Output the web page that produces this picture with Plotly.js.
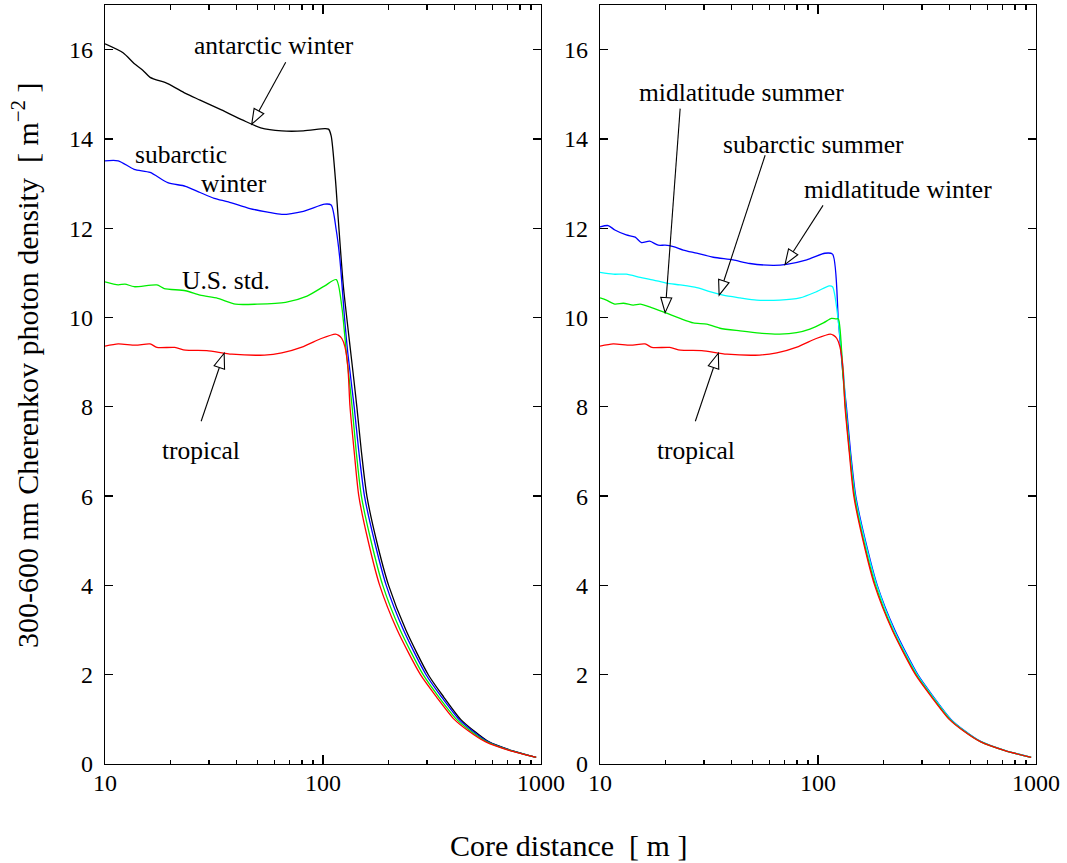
<!DOCTYPE html>
<html>
<head>
<meta charset="utf-8">
<script src="https://cdn.plot.ly/plotly-3.0.1.min.js"></script>
<style>html,body{margin:0;padding:0;background:#fff;}#plot{width:1067px;height:863px;}</style>
</head>
<body>
<div id="plot"></div>
<script>
// ---------------- data ----------------
// Left panel
const antarcticWinterX = [10, 12.1, 13.6, 14.9, 16.1, 19.4, 23.4, 27.3, 34.2, 42.9, 51.8, 64.7, 81.3, 101.9, 106, 109, 114, 117.5, 124, 132, 138.6, 143, 150, 159, 176, 200, 240, 304, 358, 428, 490, 575, 735, 950];
const antarcticWinterY = [16.13, 15.93, 15.69, 15.54, 15.38, 15.24, 15.02, 14.87, 14.65, 14.42, 14.25, 14.18, 14.18, 14.23, 14.22, 14.07, 13.1, 12.2, 10.7, 9.5, 8.6, 8.0, 7.0, 6.0, 5.0, 4.0, 3.0, 2.0, 1.5, 1.0, 0.75, 0.5, 0.3, 0.15];

const subarcticWinterX = [10, 11.5, 13.6, 16.1, 19.4, 23.4, 27.3, 31.7, 36.8, 46.2, 55.8, 64.7, 81.3, 101.9, 109, 115, 119.6, 125.8, 130, 139, 146, 155, 172, 195, 234, 297, 350, 420, 482, 570, 730, 950];
const subarcticWinterY = [13.51, 13.51, 13.32, 13.25, 13.02, 12.94, 12.80, 12.67, 12.59, 12.44, 12.36, 12.31, 12.38, 12.54, 12.52, 11.96, 11.29, 9.94, 9.2, 8.0, 7.0, 6.0, 5.0, 4.0, 3.0, 2.0, 1.5, 1.0, 0.75, 0.5, 0.3, 0.15];

const usStdX = [10, 11.5, 12.35, 13.6, 17.3, 18.7, 23.4, 27.3, 32.9, 39.7, 49.9, 67.3, 84.5, 101.9, 115, 122, 128, 132, 136, 142, 150, 166, 188, 226, 288, 340, 410, 472, 562, 725, 950];
const usStdY = [10.80, 10.73, 10.75, 10.69, 10.73, 10.65, 10.60, 10.50, 10.43, 10.30, 10.30, 10.34, 10.48, 10.71, 10.85, 10.24, 9.2, 8.6, 8.0, 7.0, 6.0, 5.0, 4.0, 3.0, 2.0, 1.5, 1.0, 0.75, 0.5, 0.3, 0.15];

const tropicalX = [10, 11.5, 13.8, 16.1, 17.3, 20.9, 23.4, 29.3, 38.2, 53.9, 64.7, 81.3, 98.2, 114, 118, 122, 126, 130, 133, 139, 146, 161, 182, 219, 280, 332, 400, 462, 555, 720, 950];
const tropicalY = [9.36, 9.41, 9.38, 9.41, 9.33, 9.33, 9.27, 9.26, 9.18, 9.16, 9.21, 9.35, 9.53, 9.63, 9.60, 9.53, 9.35, 8.9, 8.0, 7.0, 6.0, 5.0, 4.0, 3.0, 2.0, 1.5, 1.0, 0.75, 0.5, 0.3, 0.15];

// Right panel
const midWinterX = [10, 10.9, 11.7, 13.2, 14.5, 15.5, 16.9, 18.5, 19.9, 21.7, 24.1, 27.8, 33.1, 40.8, 48.7, 62.3, 71.8, 88.8, 107.5, 116.6, 124, 130, 135, 141, 149, 165, 187, 225, 287, 339, 407, 469, 560, 724, 950];
const midWinterY = [12.03, 12.06, 11.96, 11.85, 11.80, 11.68, 11.71, 11.62, 11.62, 11.59, 11.51, 11.44, 11.35, 11.29, 11.21, 11.17, 11.19, 11.29, 11.44, 11.42, 9.94, 8.75, 8.0, 7.0, 6.0, 5.0, 4.0, 3.0, 2.0, 1.5, 1.0, 0.75, 0.5, 0.3, 0.15];

const subSummerX = [10, 11.5, 13.2, 15.3, 17.6, 20.2, 23.3, 27.8, 31.9, 36.7, 43.9, 52.3, 66.8, 82.6, 98.6, 112.6, 116.6, 131, 134, 140, 148, 164, 186, 223, 285, 337, 405, 467, 558, 723, 950];
const subSummerY = [11.01, 10.97, 10.97, 10.90, 10.84, 10.77, 10.73, 10.67, 10.58, 10.50, 10.44, 10.39, 10.39, 10.44, 10.58, 10.71, 10.69, 8.75, 8.0, 7.0, 6.0, 5.0, 4.0, 3.0, 2.0, 1.5, 1.0, 0.75, 0.5, 0.3, 0.15];

const midSummerX = [10, 10.7, 11.7, 12.8, 14.2, 15.3, 16.9, 19.9, 23.3, 26.8, 30.9, 35.5, 43.9, 54.2, 66.8, 79.7, 91.8, 105.9, 115.3, 120.9, 124, 130, 133.5, 139.5, 147, 162, 183.5, 220, 282, 334, 402, 464, 556, 721, 950];
const midSummerY = [10.44, 10.39, 10.30, 10.32, 10.28, 10.30, 10.24, 10.11, 9.98, 9.88, 9.85, 9.76, 9.70, 9.65, 9.63, 9.66, 9.74, 9.88, 9.98, 9.97, 9.97, 8.75, 8.0, 7.0, 6.0, 5.0, 4.0, 3.0, 2.0, 1.5, 1.0, 0.75, 0.5, 0.3, 0.15];

const yTickVals = [0, 2, 4, 6, 8, 10, 12, 14, 16];
const xTickVals = [10, 100, 1000];
const xTickText = ['10', '100', '1000'];
const xMinorVals = [20, 30, 40, 50, 60, 70, 80, 90, 200, 300, 400, 500, 600, 700, 800, 900];

// labels: [panel, text, centre px x, centre px y]
const labels = [
  [0, 'antarctic winter', 274, 46],
  [0, 'subarctic', 181, 155],
  [0, 'winter', 234, 183],
  [0, 'U.S. std.', 226, 280],
  [0, 'tropical', 201, 450],
  [1, 'midlatitude summer', 741, 93],
  [1, 'subarctic summer', 813, 144],
  [1, 'midlatitude winter', 898, 190],
  [1, 'tropical', 696, 450]
];
// arrows: [panel, tip x (data), tip y (data), tail offset dx px, dy px]
const arrows = [
  [0, 47.1, 14.33, 34, -62],
  [0, 35.2, 9.2, -23, 68],
  [1, 19.9, 10.11, 15, -204],
  [1, 35.2, 10.50, 46, -140],
  [1, 70.6, 11.19, 38, -59],
  [1, 34.9, 9.2, -23, 68]
];

// ---------------- layout geometry ----------------
const W = 1067, H = 863;
const mL = 105, mR = 31, mT = 5, mB = 99;
const pW = W - mL - mR, pH = H - mT - mB;
const dom1 = [0, 436 / pW], dom2 = [495 / pW, 1];
const yMax = 17;

function dataToPx(panel, x, y) {
  const d = panel ? dom2 : dom1;
  const px = mL + pW * (d[0] + (d[1] - d[0]) * (Math.log10(x) - 1) / 2);
  const py = mT + pH * (1 - y / yMax);
  return [px, py];
}
function pxToPaper(px, py) { return [(px - mL) / pW, (mT + pH - py) / pH]; }

const serif = 'Liberation Serif';
const lw = 1.3;

function trace(x, y, color, ax) {
  return {x: x, y: y, type: 'scatter', mode: 'lines', xaxis: ax ? 'x2' : 'x', yaxis: ax ? 'y2' : 'y',
          line: {color: color, width: 1.3, shape: 'spline', smoothing: 0.7}, hoverinfo: 'skip', showlegend: false};
}

const data = [
  trace(antarcticWinterX, antarcticWinterY, '#000000', 0),
  trace(subarcticWinterX, subarcticWinterY, '#0000ff', 0),
  trace(usStdX, usStdY, '#00ee00', 0),
  trace(tropicalX, tropicalY, '#ff0000', 0),
  trace(midWinterX, midWinterY, '#0000ff', 1),
  trace(subSummerX, subSummerY, '#00ffff', 1),
  trace(midSummerX, midSummerY, '#00ee00', 1),
  trace(tropicalX, tropicalY, '#ff0000', 1)
];

function xAxis(domain, anchor) {
  return {
    domain: domain, anchor: anchor, type: 'log', range: [1, 3],
    tickmode: 'array', tickvals: xTickVals, ticktext: xTickText, ticks: 'inside', ticklen: 9, tickwidth: lw, tickcolor: '#000',
    minor: {tickvals: xMinorVals, ticks: 'inside', ticklen: 4.5, tickwidth: lw, tickcolor: '#000', showgrid: false},
    showline: true, linecolor: '#000', linewidth: lw, mirror: 'ticks', showgrid: false, zeroline: false,
    tickfont: {family: serif, size: 24, color: '#000'}, ticklabelstandoff: -3
  };
}
function yAxis(anchor) {
  return {
    anchor: anchor, domain: [0, 1], range: [0, yMax], tickmode: 'array', tickvals: yTickVals,
    ticks: 'inside', ticklen: 8, tickwidth: lw, tickcolor: '#000',
    showline: true, linecolor: '#000', linewidth: lw, mirror: 'ticks', showgrid: false, zeroline: false,
    tickfont: {family: serif, size: 24, color: '#000'}, ticklabelstandoff: 6
  };
}

const annotations = [];
const shapes = [];
const textFont = {family: serif, size: 25.5, color: '#000'};
labels.forEach(function (l) {
  const p = pxToPaper(l[2], l[3]);
  annotations.push({xref: 'paper', yref: 'paper', x: p[0], y: p[1], text: l[1], showarrow: false,
                    xanchor: 'center', yanchor: 'middle', font: textFont});
});
arrows.forEach(function (a) {
  const tip = dataToPx(a[0], a[1], a[2]);
  const tail = [tip[0] + a[3], tip[1] + a[4]];
  const len = Math.hypot(a[3], a[4]);
  const ux = a[3] / len, uy = a[4] / len;
  const headLen = 15, halfW = 5.5;
  const base = [tip[0] + ux * headLen, tip[1] + uy * headLen];
  const b1 = [base[0] - uy * halfW, base[1] + ux * halfW];
  const b2 = [base[0] + uy * halfW, base[1] - ux * halfW];
  const pt = pxToPaper(tip[0], tip[1]), pb = pxToPaper(base[0], base[1]);
  const p1 = pxToPaper(b1[0], b1[1]), p2 = pxToPaper(b2[0], b2[1]), pl = pxToPaper(tail[0], tail[1]);
  shapes.push({type: 'line', xref: 'paper', yref: 'paper', x0: pl[0], y0: pl[1], x1: pb[0], y1: pb[1],
               line: {color: '#000', width: 1.1}});
  shapes.push({type: 'path', xref: 'paper', yref: 'paper',
               path: 'M ' + pt[0] + ' ' + pt[1] + ' L ' + p1[0] + ' ' + p1[1] + ' L ' + p2[0] + ' ' + p2[1] + ' Z',
               fillcolor: '#ffffff', line: {color: '#000', width: 1.1}});
});

// axis titles
const yt = pxToPaper(25, 365);
annotations.push({xref: 'paper', yref: 'paper', x: yt[0], y: yt[1], textangle: -90, showarrow: false,
  xanchor: 'center', yanchor: 'middle', text: '300-600 nm Cherenkov photon density  [ m<sup>\u22122</sup> ]',
  font: {family: serif, size: 30, color: '#000'}});
const xt = pxToPaper(568, 845);
annotations.push({xref: 'paper', yref: 'paper', x: xt[0], y: xt[1], showarrow: false,
  xanchor: 'center', yanchor: 'middle', text: 'Core distance  [ m ]',
  font: {family: serif, size: 30, color: '#000'}});

const layout = {
  width: W, height: H, margin: {l: mL, r: mR, t: mT, b: mB},
  font: {family: serif, size: 24, color: '#000'},
  paper_bgcolor: '#fff', plot_bgcolor: '#fff', showlegend: false,
  xaxis: xAxis(dom1, 'y'), yaxis: yAxis('x'),
  xaxis2: xAxis(dom2, 'y2'), yaxis2: yAxis('x2'),
  annotations: annotations, shapes: shapes
};

Plotly.newPlot('plot', data, layout, {staticPlot: true, displayModeBar: false});
</script>
</body>
</html>
